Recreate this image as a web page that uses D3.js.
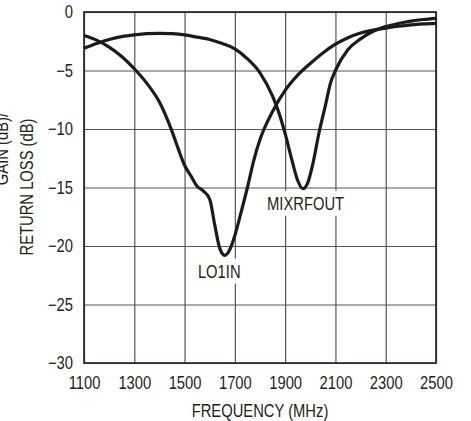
<!DOCTYPE html>
<html>
<head>
<meta charset="UTF-8" />
<title>Return loss vs frequency</title>
<script src="https://cdn.jsdelivr.net/npm/d3@7"></script>
<style>
	body { margin: 0; background: #fff; }
	svg text { font-family: "Liberation Sans", Arial, sans-serif; fill: #231f20; }
</style>
</head>
<body>
<svg id="vis" width="471" height="421"></svg>
<script>
	// tick values
	var xTicks = [1100, 1300, 1500, 1700, 1900, 2100, 2300, 2500];
	var yTicks = [0, -5, -10, -15, -20, -25, -30];

	// LO1IN curve
	var loFreq = [1100, 1150, 1200, 1250, 1300, 1350, 1400, 1450, 1475, 1500, 1525, 1550, 1575, 1600, 1620, 1640, 1660, 1680, 1700, 1725, 1750, 1775, 1800, 1850, 1900, 1950, 2000, 2050, 2100, 2150, 2200, 2250, 2300, 2350, 2400, 2450, 2500];
	var loLoss = [-2.0, -2.4, -3.0, -3.8, -4.85, -6.1, -7.7, -10.2, -11.7, -13.1, -14.0, -14.9, -15.3, -16.0, -18.2, -20.2, -20.8, -20.3, -19.1, -17.1, -15.0, -12.7, -10.9, -8.5, -6.7, -5.4, -4.4, -3.5, -2.75, -2.2, -1.8, -1.55, -1.38, -1.22, -1.1, -1.02, -0.97];

	// MIXRFOUT curve
	var mixFreq = [1100, 1150, 1200, 1250, 1300, 1350, 1400, 1450, 1500, 1550, 1600, 1650, 1700, 1750, 1800, 1850, 1875, 1900, 1925, 1950, 1970, 1990, 2010, 2035, 2060, 2080, 2100, 2150, 2200, 2250, 2300, 2350, 2400, 2450, 2500];
	var mixLoss = [-3.1, -2.7, -2.35, -2.1, -1.95, -1.85, -1.82, -1.85, -1.95, -2.15, -2.35, -2.7, -3.15, -4.0, -5.2, -7.2, -8.6, -10.4, -12.5, -14.4, -15.1, -14.6, -13.0, -10.3, -8.0, -6.1, -5.0, -3.2, -2.3, -1.65, -1.25, -0.98, -0.78, -0.64, -0.54];

	var labels = [
		{ text: "LO1IN", f: 1553, db: -22.7 },
		{ text: "MIXRFOUT", f: 1828, db: -16.9 }
	];

	var svg = d3.select("#vis");
	var mLeft = 84, mRight = 436, mTop = 12, mBottom = 363;

	var x = d3.scaleLinear().domain([1100, 2500]).range([mLeft, mRight]);
	var y = d3.scaleLinear().domain([0, -30]).range([mTop, mBottom]);

	// grid via axes
	var gx = svg.append("g")
		.attr("transform", "translate(0," + mBottom + ")")
		.call(d3.axisBottom(x).tickValues(xTicks).tickSize(-(mBottom - mTop)).tickPadding(11).tickFormat(d3.format("d")));
	var gy = svg.append("g")
		.attr("transform", "translate(" + mLeft + ",0)")
		.call(d3.axisLeft(y).tickValues(yTicks).tickSize(-(mRight - mLeft)).tickPadding(11)
			.tickFormat(function (d) { return d === 0 ? "0" : "\u2212" + Math.abs(d); }));

	[gx, gy].forEach(function (g) {
		g.select(".domain").remove();
		g.selectAll(".tick line").attr("stroke", "#555").attr("stroke-width", 1.2);
		g.selectAll(".tick text").attr("font-size", 18).attr("font-family", null).attr("fill", null);
	});
	gx.selectAll(".tick text").attr("dy", "0.83em");

	// frame
	svg.append("rect")
		.attr("x", mLeft).attr("y", mTop)
		.attr("width", mRight - mLeft).attr("height", mBottom - mTop)
		.attr("fill", "none").attr("stroke", "#231f20").attr("stroke-width", 1.6);

	// layer for label backgrounds (under the curves)
	var gBoxes = svg.append("g");

	// curves
	var line = d3.line()
		.x(function (d) { return x(d[0]); })
		.y(function (d) { return y(d[1]); })
		.curve(d3.curveMonotoneX);

	var series = [d3.zip(loFreq, loLoss), d3.zip(mixFreq, mixLoss)];
	svg.append("g").selectAll("path")
		.data(series)
		.join("path")
		.attr("d", line)
		.attr("fill", "none")
		.attr("stroke", "#1d1a1b")
		.attr("stroke-width", 3.2)
		.attr("stroke-linejoin", "round");

	// axis titles
	svg.append("text")
		.attr("x", (mLeft + mRight) / 2).attr("y", 417)
		.attr("text-anchor", "middle").attr("font-size", 18)
		.text("FREQUENCY (MHz)");

	svg.append("text")
		.attr("transform", "translate(33,187) rotate(-90)")
		.attr("text-anchor", "middle").attr("font-size", 18)
		.text("RETURN LOSS (dB)");

	// clipped first line of the label
	svg.append("text")
		.attr("transform", "translate(8,113) rotate(-90)")
		.attr("text-anchor", "end").attr("font-size", 18)
		.text("GAIN (dB)/");

	// curve labels
	var labelTexts = labels.map(function (l) {
		return svg.append("text")
			.attr("x", x(l.f)).attr("y", y(l.db))
			.attr("font-size", 18)
			.text(l.text);
	});

	// condensed look: squeeze every text to narrow proportions
	svg.selectAll("text").each(function () {
		var w = this.getComputedTextLength();
		d3.select(this).attr("textLength", w * 0.82).attr("lengthAdjust", "spacingAndGlyphs");
	});

	// white boxes behind curve labels
	labelTexts.forEach(function (t) {
		var b = t.node().getBBox();
		gBoxes.append("rect")
			.attr("x", b.x - 3).attr("y", b.y - 3)
			.attr("width", b.width + 6).attr("height", b.height + 5)
			.attr("fill", "#fff");
	});
</script>
</body>
</html>
